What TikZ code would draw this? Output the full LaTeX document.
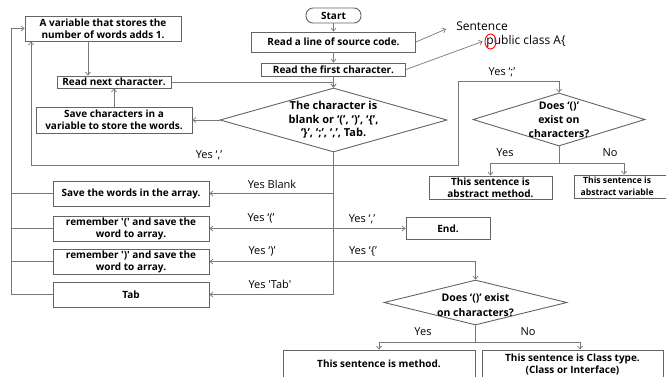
\documentclass[tikz,border=0pt]{standalone}
\usepackage{fontspec}
\setmainfont{Open Sans}
\usetikzlibrary{arrows.meta,shapes.geometric,calc}
\definecolor{lc}{RGB}{120,120,120}
\definecolor{bc}{RGB}{100,100,100}
\begin{document}
\begin{tikzpicture}[x=1pt,y=-1pt,
 box/.style={draw=bc, line width=0.9pt, inner sep=0pt, align=center, font=\bfseries\fontsize{10}{12}\selectfont, text=black},
 dia/.style={draw=bc, line width=0.9pt, diamond, inner sep=0pt},
 dtext/.style={align=center, inner sep=0pt, font=\bfseries\fontsize{10.5}{14}\selectfont},
 lab/.style={font=\fontsize{11}{13}\selectfont, inner sep=0pt},
 big/.style={font=\fontsize{12}{14}\selectfont, inner sep=0pt},
 arr/.style={draw=lc, line width=0.7pt, -{Straight Barb[length=3pt,width=5pt]}},
 ln/.style={draw=lc, line width=0.7pt}]
\useasboundingbox (0,0) rectangle (666,376);
\clip (0,0) rectangle (666,376);
\fill[white] (0,0) rectangle (666,376);

% top column
\node[box, minimum width=55pt, minimum height=15pt, rounded corners=7pt] (start) at (333.5,15.5) {Start};
\node[box, minimum width=164pt, minimum height=20pt] (rline) at (333.5,42) {Read a line of source code.};
\node[box, minimum width=144pt, minimum height=13pt] (rfirst) at (333.5,69.5) {Read the first character.};
\node[box, minimum width=156pt, minimum height=25pt] (cnt) at (103,28.5) {A variable that stores the\\number of words adds 1.};
\node[box, minimum width=114pt, minimum height=12pt] (rnext) at (114,82) {Read next character.};
\node[box, minimum width=156pt, minimum height=26pt] (save) at (114,120) {Save characters in a\\variable to store the words.};

% main diamond
\node[dia, minimum width=227pt, minimum height=64pt] (d1) at (333.5,120) {};
\node[dtext, font=\bfseries\fontsize{11}{13.5}\selectfont] (d1t) at (333.5,120) {The character is\\blank or ‘(’, ‘)’, ‘\{’,\\‘\}’, ‘;’, ‘,’, Tab.};

% sentence
\node[big] (snt) at (482,26) {Sentence};
\node[big] (code) at (526,41) {public class A\{};
\node[draw=red, ellipse, minimum width=11pt, minimum height=15pt, inner sep=0pt, line width=0.9pt] (pc) at (490.5,41.5) {};

% right diamond
\node[dia, minimum width=172pt, minimum height=53pt] (d2) at (559,119.5) {};
\node[dtext] (d2t) at (559,120) {Does ‘()’\\exist on\\characters?};
\node[box, minimum width=123pt, minimum height=23pt] (am) at (490.5,187.5) {This sentence is\\abstract method.};
\node[box, minimum width=124pt, minimum height=23pt] (av) at (636,186.5) {};
\node[align=center, inner sep=0pt, anchor=west, font=\bfseries\fontsize{8.6}{11.5}\selectfont] (avt) at (580.5,186.5) {This sentence is\\abstract variable};

% left boxes
\node[box, minimum width=156pt, minimum height=25pt] (sw) at (131,193.5) {Save the words in the array.};
\node[box, minimum width=156pt, minimum height=25pt] (rem1) at (131,228.5) {remember \textquotesingle(\textquotesingle\ and save the\\word to array.};
\node[box, minimum width=156pt, minimum height=25pt] (rem2) at (131,261.5) {remember \textquotesingle)\textquotesingle\ and save the\\word to array.};
\node[box, minimum width=156pt, minimum height=25pt] (tab) at (131,294.5) {Tab};
\node[box, minimum width=84pt, minimum height=22pt] (end) at (448,228.5) {End.};

% lower diamond
\node[dia, minimum width=183pt, minimum height=45pt] (d3) at (475.5,302.5) {};
\node[dtext, font=\bfseries\fontsize{10.5}{15}\selectfont] (d3t) at (475.5,305) {Does ‘()’ exist\\on characters?};
\node[box, minimum width=192pt, minimum height=28pt] (meth) at (379,364) {This sentence is method.};
\node[box, minimum width=181pt, minimum height=28pt] (cls) at (572.5,364) {This sentence is Class type.\\(Class or Interface)};

% coordinates
\coordinate (v1) at (333.5,165);
\coordinate (v5) at (333.5,294.5);
\coordinate (r1) at (458,165);
\coordinate (r2) at (458,81);
\coordinate (j2) at (559,163);
\coordinate (j3) at (475.5,342);

% connectors top
\draw[arr] (start.south) -- (rline.north);
\draw[arr] (rline.south) -- (rfirst.north);
\draw[arr] (rfirst.south) -- (d1.north);
\draw[arr] (rnext.east) -| (d1.north);
\draw[arr] ([xshift=-15pt]cnt.south) -- ([xshift=-15pt]cnt.south |- rnext.north);
\draw[arr] (save.north) -- (rnext.south);
\draw[arr] (d1.west) -- (save.east);
\draw[arr] (rline.east) -- ([xshift=-10pt,yshift=-3pt]snt.west);
\draw[arr] (rfirst.east) -- ([xshift=-2pt]pc.west);

% main vertical
\draw[arr] (d1.south) -- (v5) -- (tab.east);
\draw[arr] (v1) -| ([xshift=-72pt]cnt.south);
\draw[arr] (v1) -- (r1) -- (r2) -| (d2.north);
\draw[arr] (d1.south |- sw.east) -- (sw.east);
\draw[arr] (d1.south |- rem1.east) -- (rem1.east);
\draw[arr] (d1.south |- rem1.east) -- (end.west);
\draw[arr] (d1.south |- rem2.east) -- (rem2.east);
\draw[arr] (d1.south |- rem2.east) -| (d3.north);

% outer bus
\draw[ln] (sw.west) -- ++(-41,0);
\draw[ln] (rem1.west) -- ++(-41,0);
\draw[ln] (rem2.west) -- ++(-41,0);
\draw[arr] (tab.west) -- ++(-41,0) |- (cnt.west);

% right diamond branches
\draw[ln] (d2.south) -- (j2);
\draw[arr] (j2) -| (am.north);
\draw[arr] (j2) -| ([xshift=-12pt]av.north);

% lower diamond branches
\draw[ln] (d3.south) -- (j3);
\draw[arr] (j3) -| (meth.north);
\draw[arr] (j3) -| ([xshift=7.5pt]cls.north);

% labels
\node[lab] (l1) at (209,155) {Yes ‘,’};
\node[lab] (l2) at (502,72) {Yes ‘;’};
\node[lab] (l3) at (505,153) {Yes};
\node[lab] (l4) at (610,153) {No};
\node[lab] (l5) at (272,184) {Yes Blank};
\node[lab] (l6) at (261,218) {Yes ‘(’};
\node[lab] (l7) at (262,251) {Yes ‘)’};
\node[lab] (l8) at (270,284) {Yes \textquotesingle Tab\textquotesingle};
\node[lab] (l9) at (362,219) {Yes ‘,’};
\node[lab] (l10) at (363,251) {Yes ‘\{’};
\node[lab] (l11) at (423,332) {Yes};
\node[lab] (l12) at (528,332) {No};
\end{tikzpicture}
\end{document}
